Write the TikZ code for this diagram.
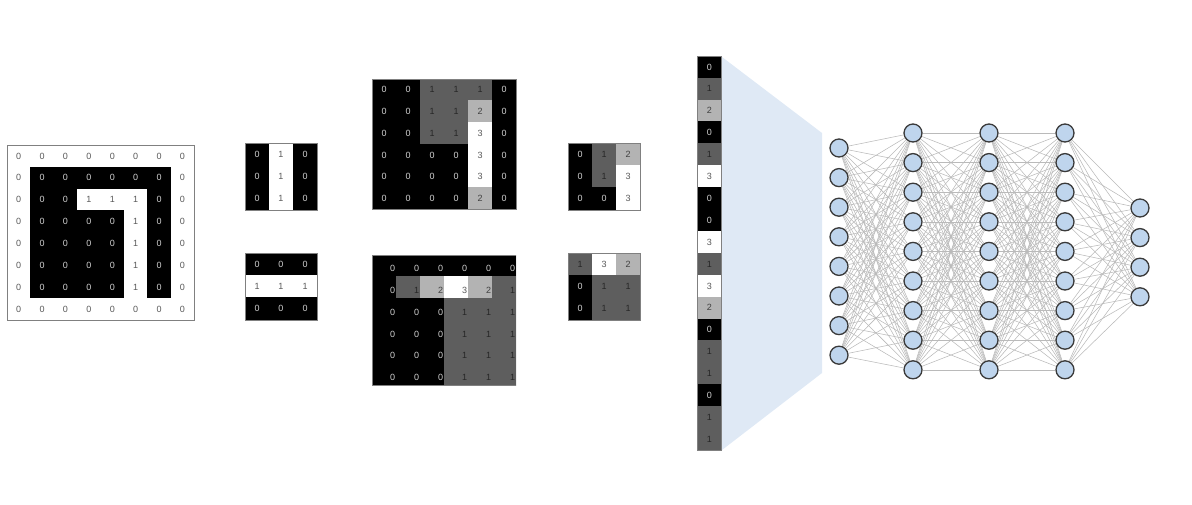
\documentclass[tikz,border=0pt]{standalone}
\usepackage{fontspec}
\setmainfont{Liberation Sans}
\pgfdeclarelayer{background}
\pgfsetlayers{background,main}
\definecolor{cdark}{HTML}{5E5E5E}
\definecolor{clight}{HTML}{B3B3B3}
\definecolor{nodefill}{HTML}{BFD5ED}
\definecolor{nodeedge}{HTML}{3A3A3A}
\definecolor{fanblue}{HTML}{DFE9F5}
\definecolor{edgegray}{HTML}{BABABA}
% cell fill colours
\colorlet{fk}{black}\colorlet{fw}{white}\colorlet{fd}{cdark}\colorlet{fl}{clight}
% cell text colours
\colorlet{tk}{black!18}\colorlet{tw}{black!65}\colorlet{td}{black!85}\colorlet{tl}{black!75}
\tikzset{
  digit/.style={inner sep=0pt, font=\fontsize{9}{10}\selectfont},
  gridborder/.style={draw=black!50, line width=0.6pt},
  neuron/.style={circle, minimum size=18pt, inner sep=0pt, fill=nodefill, draw=nodeedge, line width=1.3pt},
  synapse/.style={draw=edgegray, line width=0.55pt},
  fan/.style={fill=fanblue}
}
\def\tdx{0}\def\tdy{0}
% #1 name, #2 x0, #3 y0, #4 cell w, #5 cell h, #6 cols, #7 rows, #8 list of rows
\newcommand{\cnngrid}[8]{%
  \foreach \rowlist [count=\r from 0] in {#8} {
    \foreach \s/\v [count=\c from 0] in \rowlist {
      \fill[fill=f\s] ({#2+\c*#4-0.25},{#3+\r*#5-0.25}) rectangle ({#2+(\c+1)*#4+0.25},{#3+(\r+1)*#5+0.25});
      \node[digit, text=t\s] (#1-\r-\c) at ({#2+(\c+0.5)*#4+\tdx},{#3+(\r+0.5)*#5+\tdy}) {\v};
    }
  }
  \draw[gridborder] (#2,#3) rectangle ({#2+#6*#4},{#3+#7*#5});
}
\begin{document}
\begin{tikzpicture}[x=1pt,y=-1pt]
\useasboundingbox (0,0) rectangle (1192,504);

% input image
\cnngrid{in}{7}{145}{23.4}{21.9}{8}{8}{
 {w/0,w/0,w/0,w/0,w/0,w/0,w/0,w/0},
 {w/0,k/0,k/0,k/0,k/0,k/0,k/0,w/0},
 {w/0,k/0,k/0,w/1,w/1,w/1,k/0,w/0},
 {w/0,k/0,k/0,k/0,k/0,w/1,k/0,w/0},
 {w/0,k/0,k/0,k/0,k/0,w/1,k/0,w/0},
 {w/0,k/0,k/0,k/0,k/0,w/1,k/0,w/0},
 {w/0,k/0,k/0,k/0,k/0,w/1,k/0,w/0},
 {w/0,w/0,w/0,w/0,w/0,w/0,w/0,w/0}}

% kernels
\cnngrid{ka}{245}{143}{24}{22.3}{3}{3}{
 {k/0,w/1,k/0},{k/0,w/1,k/0},{k/0,w/1,k/0}}
\cnngrid{kb}{245}{253}{24}{22.3}{3}{3}{
 {k/0,k/0,k/0},{w/1,w/1,w/1},{k/0,k/0,k/0}}

% feature maps
\cnngrid{fa}{372}{79}{24}{21.7}{6}{6}{
 {k/0,k/0,d/1,d/1,d/1,k/0},
 {k/0,k/0,d/1,d/1,l/2,k/0},
 {k/0,k/0,d/1,d/1,w/3,k/0},
 {k/0,k/0,k/0,k/0,w/3,k/0},
 {k/0,k/0,k/0,k/0,w/3,k/0},
 {k/0,k/0,k/0,k/0,l/2,k/0}}
\begin{scope}
\clip (372,255) rectangle (516,385.2);
\def\tdx{8.5}\def\tdy{3}
\cnngrid{fb}{372}{255}{24}{21.7}{6}{6}{
 {k/0,k/0,k/0,k/0,k/0,k/0},
 {k/0,d/1,l/2,w/3,l/2,d/1},
 {k/0,k/0,k/0,d/1,d/1,d/1},
 {k/0,k/0,k/0,d/1,d/1,d/1},
 {k/0,k/0,k/0,d/1,d/1,d/1},
 {k/0,k/0,k/0,d/1,d/1,d/1}}
\end{scope}

% pooled maps
\cnngrid{pa}{568}{143}{24}{22.3}{3}{3}{
 {k/0,d/1,l/2},{k/0,d/1,w/3},{k/0,k/0,w/3}}
\cnngrid{pb}{568}{253}{24}{22.3}{3}{3}{
 {d/1,w/3,l/2},{k/0,d/1,d/1},{k/0,d/1,d/1}}

% flattening fan
\fill[fan] (722,57) -- (822,133) -- (822,373) -- (722,450) -- cycle;

% flattened vector
\cnngrid{fv}{697}{56}{24.5}{21.9}{1}{18}{
 {k/0},{d/1},{l/2},{k/0},{d/1},{w/3},{k/0},{k/0},{w/3},
 {d/1},{w/3},{l/2},{k/0},{d/1},{d/1},{k/0},{d/1},{d/1}}

% fully connected network
\foreach \i in {0,...,7} \node[neuron] (a\i) at (839,{148+29.6*\i}) {};
\foreach \i in {0,...,8} \node[neuron] (b\i) at (913,{133+29.6*\i}) {};
\foreach \i in {0,...,8} \node[neuron] (c\i) at (989,{133+29.6*\i}) {};
\foreach \i in {0,...,8} \node[neuron] (d\i) at (1065,{133+29.6*\i}) {};
\foreach \i in {0,...,3} \node[neuron] (e\i) at (1140,{208+29.6*\i}) {};

\begin{pgfonlayer}{background}
\foreach \i in {0,...,7} \foreach \j in {0,...,8} \draw[synapse] (a\i) -- (b\j);
\foreach \i in {0,...,8} \foreach \j in {0,...,8} \draw[synapse] (b\i) -- (c\j);
\foreach \i in {0,...,8} \foreach \j in {0,...,8} \draw[synapse] (c\i) -- (d\j);
\foreach \i in {0,...,8} \foreach \j in {0,...,3} \draw[synapse] (d\i) -- (e\j);
\end{pgfonlayer}
\end{tikzpicture}
\end{document}
